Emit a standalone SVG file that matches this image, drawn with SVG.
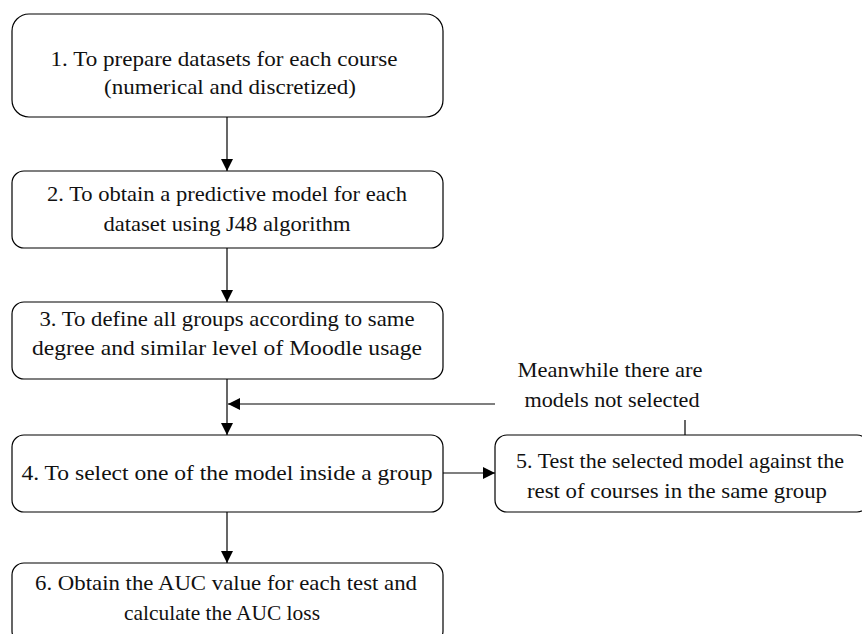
<svg xmlns="http://www.w3.org/2000/svg" width="862" height="634" viewBox="0 0 862 634">
<style>
.box{fill:#fff;stroke:#000;stroke-width:1.2}
.t{font-family:"Liberation Serif","Times New Roman",serif;font-size:21px;fill:#111;text-anchor:middle}
.c{fill:none;stroke:#000;stroke-width:1.2}
</style>
<defs>
<marker id="ah" markerUnits="userSpaceOnUse" markerWidth="12" markerHeight="12" refX="12" refY="6" orient="auto">
<path d="M0,0 L12,6 L0,12 z" fill="#000"/>
</marker>
</defs>
<rect width="862" height="634" fill="#fff"/>
<g id="connectors">
<line class="c" x1="227" y1="117" x2="227" y2="171" marker-end="url(#ah)"/>
<line class="c" x1="227" y1="248" x2="227" y2="302" marker-end="url(#ah)"/>
<line class="c" x1="227" y1="379" x2="227" y2="435" marker-end="url(#ah)"/>
<line class="c" x1="495" y1="404" x2="228" y2="404" marker-end="url(#ah)"/>
<line class="c" x1="685" y1="420" x2="685" y2="435"/>
<line class="c" x1="443" y1="473" x2="495" y2="473" marker-end="url(#ah)"/>
<line class="c" x1="227" y1="512" x2="227" y2="563" marker-end="url(#ah)"/>
</g>
<g id="node1">
<rect class="box" x="12" y="14" width="431" height="103" rx="17"/>
<text class="t" x="224" y="66" textLength="347" lengthAdjust="spacingAndGlyphs">1. To prepare datasets for each course</text>
<text class="t" x="230" y="94" textLength="252" lengthAdjust="spacingAndGlyphs">(numerical and discretized)</text>
</g>
<g id="node2">
<rect class="box" x="12" y="171" width="431" height="77" rx="12"/>
<text class="t" x="227" y="201" textLength="360" lengthAdjust="spacingAndGlyphs">2. To obtain a predictive model for each</text>
<text class="t" x="227" y="231" textLength="247" lengthAdjust="spacingAndGlyphs">dataset using J48 algorithm</text>
</g>
<g id="node3">
<rect class="box" x="12" y="302" width="431" height="77" rx="12"/>
<text class="t" x="227" y="326" textLength="375" lengthAdjust="spacingAndGlyphs">3. To define all groups according to same</text>
<text class="t" x="227" y="355" textLength="390" lengthAdjust="spacingAndGlyphs">degree and similar level of Moodle usage</text>
</g>
<g id="node4">
<rect class="box" x="12" y="435" width="431" height="77" rx="12"/>
<text class="t" x="227" y="480" textLength="411" lengthAdjust="spacingAndGlyphs">4. To select one of the model inside a group</text>
</g>
<g id="node5">
<rect class="box" x="495" y="435" width="374" height="77" rx="12"/>
<text class="t" x="680" y="468" textLength="328" lengthAdjust="spacingAndGlyphs">5. Test the selected model against the</text>
<text class="t" x="677" y="498" textLength="300" lengthAdjust="spacingAndGlyphs">rest of courses in the same group</text>
</g>
<g id="node6">
<rect class="box" x="12" y="563" width="431" height="80" rx="12"/>
<text class="t" x="226" y="590" textLength="382" lengthAdjust="spacingAndGlyphs">6. Obtain the AUC value for each test and</text>
<text class="t" x="222" y="620" textLength="196" lengthAdjust="spacingAndGlyphs">calculate the AUC loss</text>
</g>
<g id="label">
<text class="t" x="610" y="377" textLength="185" lengthAdjust="spacingAndGlyphs">Meanwhile there are</text>
<text class="t" x="612" y="407" textLength="175" lengthAdjust="spacingAndGlyphs">models not selected</text>
</g>
</svg>
